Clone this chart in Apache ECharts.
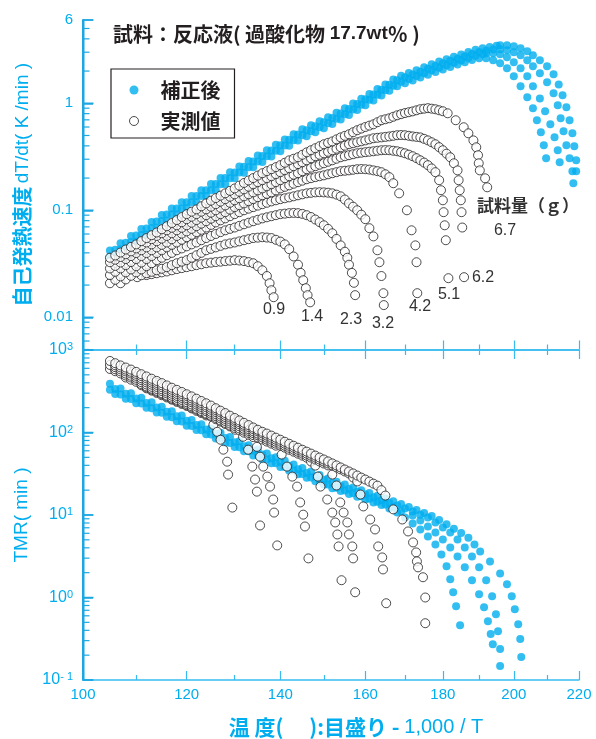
<!DOCTYPE html>
<html><head><meta charset="utf-8">
<script src="https://cdn.jsdelivr.net/npm/echarts@6/dist/echarts.min.js"></script>
<style>html,body{margin:0;padding:0;background:#fff}#c{width:596px;height:739px}</style>
</head><body><div id="c"></div>
<script>
// ---------- data: [temperature (deg C), value] ----------
// top panel: self-heat rate dT/dt (K/min), corrected (補正後)
const rateCorrA = [[105,0.0421],[107,0.0491],[109,0.0574],[111,0.0669],[113,0.0777],[115,0.0902],[117,0.104],[119,0.119],[121,0.136],[123,0.154],[125,0.176],[127,0.2],[129,0.227],[131,0.256],[133,0.288],[135,0.325],[137,0.364],[139,0.409],[141,0.459],[143,0.513],[145,0.572],[147,0.623],[149,0.679],[151,0.74],[153,0.815],[155,0.9],[157,0.994],[159,1.10],[161,1.22],[163,1.36],[165,1.5],[167,1.67],[169,1.81],[171,1.92],[173,2.04],[175,2.17],[177,2.31],[179,2.45],[181,2.58],[183,2.72],[185,2.86],[187,3.01],[189,3.16],[191,3.27],[193,3.35],[195,3.44],[196,3.48],[198,3.48],[200,3.41],[202,3.27],[204,3.06],[205.7,2.81],[207.8,2.52],[210,2.22],[212,1.87],[213.6,1.5],[214.8,1.19],[216,0.917],[217,0.694],[217.9,0.524],[218.5,0.396],[219.1,0.293],[219.1,0.231],[218.2,0.179]];
const rateCorrB = [[106,0.0427],[108,0.0498],[110,0.058],[112,0.0676],[114,0.0786],[116,0.0912],[118,0.104],[120,0.119],[122,0.136],[124,0.154],[126,0.176],[128,0.2],[130,0.226],[132,0.255],[134,0.286],[136,0.322],[138,0.362],[140,0.406],[142,0.455],[144,0.51],[146,0.559],[148,0.61],[150,0.665],[152,0.727],[154,0.803],[156,0.885],[158,0.983],[160,1.09],[162,1.21],[164,1.34],[166,1.49],[168,1.64],[170,1.75],[172,1.86],[174,1.97],[176,2.1],[178,2.23],[180,2.36],[182,2.49],[184,2.61],[186,2.75],[188,2.89],[190,3.02],[192,3.1],[194,3.18],[196,3.2],[198,3.13],[200,3.0],[202,2.81],[204,2.52],[205.7,2.22],[207.8,1.91],[210,1.57],[212,1.24],[213.3,0.958],[214.2,0.724],[215.1,0.547],[216,0.405],[217,0.306],[217.9,0.231]];
const rateCorrC = [[105,0.037],[107,0.0432],[109,0.0504],[111,0.0588],[113,0.0684],[115,0.0793],[117,0.0916],[119,0.104],[121,0.119],[123,0.136],[125,0.154],[127,0.175],[129,0.199],[131,0.225],[133,0.253],[135,0.285],[137,0.32],[139,0.36],[141,0.403],[143,0.451],[145,0.502],[147,0.547],[149,0.597],[151,0.65],[153,0.716],[155,0.791],[157,0.873],[159,0.97],[161,1.08],[163,1.2],[165,1.32],[167,1.46],[169,1.59],[171,1.69],[173,1.8],[175,1.91],[177,2.03],[179,2.15],[181,2.27],[183,2.39],[185,2.51],[187,2.65],[189,2.78],[191,2.87],[192,2.93],[194,2.93],[196,2.87],[198,2.69],[200,2.42],[202,2.12],[204,1.79],[205.7,1.44],[207.8,1.11],[209.4,0.842],[211,0.636],[212.3,0.481],[213.3,0.364],[213.9,0.281]];
const rateCorrD = [[106,0.0375],[108,0.0438],[110,0.051],[112,0.0594],[114,0.0691],[116,0.0801],[118,0.0916],[120,0.105],[122,0.119],[124,0.136],[126,0.154],[128,0.175],[130,0.199],[132,0.224],[134,0.252],[136,0.283],[138,0.318],[140,0.357],[142,0.4],[144,0.448],[146,0.491],[148,0.536],[150,0.584],[152,0.639],[154,0.706],[156,0.777],[158,0.864],[160,0.96],[162,1.06],[164,1.18],[166,1.31],[168,1.44],[170,1.54],[172,1.63],[174,1.74],[176,1.85],[178,1.96],[180,2.07],[182,2.18],[184,2.3],[186,2.42],[188,2.54],[190,2.63],[192,2.63],[194,2.52],[196,2.37],[198,2.12],[200,1.79],[202,1.44],[204,1.14],[205.7,0.898],[206.9,0.694],[208.1,0.536],[209,0.405],[209.7,0.306]];

// top panel: measured (実測値), one array per sample mass (g)
const rateMeas_0_9 = [[112,0.0248],[113,0.0253],[114,0.0258],[115,0.0263],[116,0.0268],[117,0.0275],[118,0.0282],[119,0.0288],[120,0.0294],[121,0.03],[122,0.0307],[123,0.0313],[124,0.032],[125,0.0324],[126,0.0328],[127,0.0331],[128,0.0335],[129,0.0338],[130,0.0342],[131,0.0339],[132,0.0335],[133,0.0328],[134,0.032],[135,0.03],[136,0.0275],[137,0.0243],[137.6,0.0208],[138,0.0179],[138.5,0.0154]];
const rateMeas_1_4 = [[110.2,0.0237],[111,0.0247],[112,0.0258],[113,0.0266],[114,0.0275],[115,0.0284],[116,0.0294],[117,0.0307],[118,0.032],[119,0.0331],[120,0.0342],[121,0.036],[122,0.038],[123,0.04],[124,0.0423],[125,0.0436],[126,0.045],[127,0.0465],[128,0.048],[129,0.049],[130,0.05],[131,0.0512],[132,0.0525],[133,0.0537],[134,0.055],[135,0.0555],[136,0.056],[137,0.0556],[138,0.055],[139,0.053],[140,0.051],[141,0.048],[142,0.0433],[143,0.037],[144,0.031],[144.6,0.026],[145.2,0.0222],[145.8,0.0187],[146.2,0.0161],[146.8,0.0138]];
const rateMeas_2_3 = [[107,0.0208],[108,0.0226],[109,0.0244],[110,0.0263],[111,0.028],[112,0.03],[113,0.032],[114,0.0342],[115,0.036],[116,0.038],[117,0.04],[118,0.0423],[119,0.044],[120,0.046],[121,0.048],[122,0.05],[123,0.0525],[124,0.055],[125,0.0575],[126,0.06],[127,0.0625],[128,0.065],[129,0.067],[130,0.069],[131,0.0715],[132,0.074],[133,0.0765],[134,0.079],[135,0.0815],[136,0.084],[137,0.086],[138,0.088],[139,0.09],[140,0.092],[141,0.093],[142,0.094],[143,0.0945],[144,0.094],[145,0.0925],[146,0.09],[147,0.0865],[148,0.082],[149,0.0775],[150,0.0724],[151,0.067],[152,0.061],[153,0.054],[154,0.047],[155,0.041],[155.6,0.036],[156,0.031],[156.7,0.026],[157.2,0.021],[157.5,0.0161]];
const rateMeas_3_2 = [[105,0.0208],[106,0.0224],[107,0.0241],[108,0.0263],[109,0.028],[110,0.03],[111,0.0325],[112,0.035],[113,0.0373],[114,0.0398],[115,0.0423],[116,0.045],[117,0.0475],[118,0.05],[119,0.053],[120,0.056],[121,0.059],[122,0.0625],[123,0.0657],[124,0.069],[125,0.073],[126,0.077],[127,0.0805],[128,0.084],[129,0.088],[130,0.092],[131,0.096],[132,0.1],[133,0.1035],[134,0.107],[135,0.1105],[136,0.114],[137,0.1175],[138,0.121],[139,0.124],[140,0.127],[141,0.1295],[142,0.132],[143,0.135],[144,0.138],[145,0.141],[146,0.144],[147,0.1455],[148,0.147],[149,0.1475],[150,0.147],[151,0.146],[152,0.144],[153,0.14],[154,0.135],[155,0.126],[156,0.116],[157,0.108],[158,0.1],[159,0.091],[160,0.0825],[161,0.068],[162,0.057],[163,0.0423],[163.5,0.0327],[164,0.0243],[164.5,0.0168],[164.6,0.013]];
const rateMeas_4_2 = [[105,0.0248],[106,0.0266],[107,0.0286],[108,0.0307],[109,0.0328],[110,0.035],[111,0.0373],[112,0.0398],[113,0.0423],[114,0.045],[115,0.0475],[116,0.05],[117,0.0536],[118,0.0575],[119,0.0605],[120,0.0635],[121,0.067],[122,0.071],[123,0.075],[124,0.079],[125,0.0835],[126,0.088],[127,0.092],[128,0.096],[129,0.1015],[130,0.107],[131,0.1115],[132,0.116],[133,0.1215],[134,0.127],[135,0.1325],[136,0.138],[137,0.1425],[138,0.147],[139,0.1535],[140,0.16],[141,0.1655],[142,0.171],[143,0.177],[144,0.183],[145,0.189],[146,0.195],[147,0.1995],[148,0.204],[149,0.208],[150,0.212],[151,0.217],[152,0.222],[153,0.227],[154,0.232],[155,0.234],[156,0.236],[157,0.239],[158,0.242],[159,0.243],[160,0.242],[161,0.24],[162,0.236],[163,0.232],[164,0.227],[165,0.217],[166,0.204],[167,0.179],[168.5,0.144],[170.5,0.1],[171.7,0.065],[172.7,0.047],[173,0.0327],[173.2,0.0168]];
const rateMeas_5_1 = [[105,0.0286],[106,0.0302],[107,0.0325],[108,0.035],[109,0.0373],[110,0.0398],[111,0.0423],[112,0.045],[113,0.048],[114,0.0513],[115,0.0543],[116,0.0575],[117,0.061],[118,0.065],[119,0.0686],[120,0.0724],[121,0.0765],[122,0.081],[123,0.0853],[124,0.09],[125,0.095],[126,0.1],[127,0.1055],[128,0.111],[129,0.1175],[130,0.124],[131,0.1295],[132,0.135],[133,0.141],[134,0.147],[135,0.1535],[136,0.16],[137,0.1675],[138,0.175],[139,0.183],[140,0.191],[141,0.1995],[142,0.208],[143,0.215],[144,0.222],[145,0.232],[146,0.242],[147,0.25],[148,0.258],[149,0.2665],[150,0.275],[151,0.284],[152,0.293],[153,0.303],[154,0.313],[155,0.32],[156,0.327],[157,0.334],[158,0.341],[159,0.345],[160,0.349],[161,0.3525],[162,0.356],[163,0.36],[164,0.364],[165,0.365],[166,0.364],[167,0.36],[168,0.356],[169,0.349],[170,0.341],[171,0.331],[172,0.32],[173,0.307],[174,0.293],[175,0.279],[176,0.264],[177,0.246],[178,0.227],[179,0.191],[179.5,0.154],[180,0.124],[180.2,0.096],[180.5,0.0724],[180.8,0.0525],[181.5,0.0232]];
const rateMeas_6_2 = [[105,0.0327],[106,0.0345],[107,0.0366],[108,0.0388],[109,0.0413],[110,0.044],[111,0.047],[112,0.05],[113,0.0537],[114,0.0575],[115,0.061],[116,0.065],[117,0.0686],[118,0.0724],[119,0.0773],[120,0.0825],[121,0.087],[122,0.092],[123,0.097],[124,0.102],[125,0.108],[126,0.114],[127,0.1205],[128,0.127],[129,0.134],[130,0.141],[131,0.149],[132,0.157],[133,0.166],[134,0.175],[135,0.183],[136,0.191],[137,0.1995],[138,0.208],[139,0.2175],[140,0.227],[141,0.237],[142,0.247],[143,0.258],[144,0.27],[145,0.281],[146,0.293],[147,0.306],[148,0.32],[149,0.33],[150,0.341],[151,0.352],[152,0.364],[153,0.376],[154,0.388],[155,0.401],[156,0.414],[157,0.423],[158,0.432],[159,0.441],[160,0.45],[161,0.46],[162,0.471],[163,0.4755],[164,0.48],[165,0.485],[166,0.49],[167,0.4965],[168,0.503],[169,0.505],[170,0.503],[171,0.4965],[172,0.49],[173,0.485],[174,0.48],[175,0.465],[176,0.45],[177,0.432],[178,0.414],[179,0.389],[180,0.364],[181,0.338],[182,0.313],[183,0.275],[184,0.236],[184.3,0.191],[184.6,0.154],[184.9,0.124],[185.1,0.096],[185.3,0.069],[185.8,0.0237]];
const rateMeas_6_7 = [[105,0.036],[106,0.0378],[107,0.0403],[108,0.043],[109,0.0455],[110,0.048],[111,0.0515],[112,0.055],[113,0.0585],[114,0.062],[115,0.0665],[116,0.071],[117,0.076],[118,0.081],[119,0.0865],[120,0.092],[121,0.097],[122,0.102],[123,0.109],[124,0.116],[125,0.123],[126,0.13],[127,0.137],[128,0.144],[129,0.152],[130,0.16],[131,0.17],[132,0.18],[133,0.19],[134,0.2],[135,0.211],[136,0.222],[137,0.232],[138,0.242],[139,0.253],[140,0.264],[141,0.278],[142,0.293],[143,0.303],[144,0.313],[145,0.33],[146,0.348],[147,0.364],[148,0.38],[149,0.397],[150,0.414],[151,0.427],[152,0.44],[153,0.46],[154,0.48],[155,0.496],[156,0.513],[157,0.536],[158,0.56],[159,0.58],[160,0.6],[161,0.618],[162,0.636],[163,0.665],[164,0.694],[165,0.709],[166,0.724],[167,0.748],[168,0.772],[169,0.791],[170,0.81],[171,0.825],[172,0.84],[173,0.86],[174,0.88],[175,0.89],[176,0.9],[177,0.89],[178,0.879],[179,0.86],[180,0.842],[181.3,0.806],[183.5,0.694],[185.7,0.597],[187,0.524],[188.4,0.45],[189.2,0.388],[189.7,0.327],[189.9,0.275],[190.2,0.236],[191.7,0.199],[192.3,0.164]];

// bottom panel: TMR (min), corrected
const tmrCorrA = [[105,389],[107,342],[109,300],[111,264],[113,233],[115,205],[117,181],[119,161],[121,142],[123,126],[125,112],[127,99.3],[129,88.1],[131,78.4],[133,69.9],[135,62.2],[137,55.5],[139,50.1],[141,45.3],[143,41],[145,37.1],[147,33.6],[149,30.5],[151,27.7],[153,25.3],[155,23.4],[157,21.6],[159,20],[161,18.5],[163,17.1],[165,15.9],[167,14.7],[169,13.6],[171,12.5],[173,11.5],[175,10.6],[177,9.75],[179,8.71],[181,7.7],[183,6.83],[185,6.06],[187,5.3],[188.7,4.4],[190.3,3.62],[193.1,2.74],[196,1.96],[198,1.45],[199.4,1.035],[200.3,0.721],[201.3,0.475],[201.9,0.313],[202.2,0.19]];
const tmrCorrB = [[106,336],[108,295],[110,259],[112,228],[114,201],[116,178],[118,157],[120,139],[122,123],[124,109],[126,96.8],[128,85.9],[130,76.4],[132,68],[134,60.7],[136,54.1],[138,48.6],[140,43.8],[142,39.6],[144,35.9],[146,32.4],[148,29.4],[150,26.7],[152,24.3],[154,22.4],[156,20.7],[158,19.1],[160,17.7],[162,16.4],[164,15.1],[166,14],[168,13],[170,12],[172,11],[174,10.1],[176,9.33],[178,8.1],[180,7.06],[182,6.14],[184,5.06],[186,4.05],[188,3.15],[190,2.32],[192,1.62],[193.7,1.035],[194.8,0.628],[195.4,0.391],[196,0.237],[196,0.148]];
const tmrCorrC = [[105,329],[107,289],[109,254],[111,224],[113,197],[115,174],[117,153],[119,136],[121,120],[123,106.5],[125,94.5],[127,84.1],[129,74.6],[131,66.3],[133,59.2],[135,52.7],[137,47],[139,42.4],[141,38.3],[143,34.7],[145,31.4],[147,28.5],[149,25.8],[151,23.4],[153,21.4],[155,19.8],[157,18.3],[159,16.9],[161,15.7],[163,14.5],[165,13.4],[167,12.5],[169,11.1],[172,9.86],[174,8.58],[176,7.26],[178,6.14],[180,5.06],[182,4.05],[184,3.15],[186,2.32],[188,1.62],[190,1.095],[191.4,0.762],[192.5,0.516],[193.3,0.36],[193.9,0.272]];
const tmrCorrD = [[106,292],[108,257],[110,226],[112,199],[114,175],[116,155],[118,137],[120,121],[122,107],[124,95],[126,84.3],[128,74.8],[130,66.5],[132,59.2],[134,52.8],[136,47.1],[138,42.3],[140,38.1],[142,34.5],[144,31.2],[146,28.2],[148,25.6],[150,23.2],[152,21.1],[154,19.5],[156,18],[158,16.6],[160,15.4],[162,14.2],[164,13.2],[166,12],[168,10.7],[170,9.33],[172,7.89],[174,6.68],[176,5.5],[178,4.4],[179.6,3.33],[181,2.39],[182,1.66],[182.8,1.157],[183.6,0.784],[184.7,0.462]];

// bottom panel: TMR (min), measured
const tmrMeas_0_9 = [[112,343],[113,322],[114,302],[115,283],[116,266],[117,250],[118,235],[119,222],[120,210],[121,196],[122,183],[123,172],[124,161],[125.5,124],[126.3,102],[127,81.7],[127.6,61.9],[128.4,44.3],[128.6,30.9],[129.5,12.3]];
const tmrMeas_1_4 = [[111,374],[112,352],[113,331],[114,311],[115,292],[116,274],[117,256],[118,242],[119,228],[120,214],[121,201],[122,189],[123,177],[124,166],[125,156],[126,145],[127,135.5],[128,126.7],[129,118.5],[130.1,108],[131.8,88.8],[132.9,61.9],[133.8,38.6],[134.4,26.9],[134.8,19.2],[135.5,7.47]];
const tmrMeas_2_3 = [[108,464],[109,437],[110,412],[111,386],[112,362],[113,340],[114,320],[115,300],[116,281],[117,265],[118,249],[119,235],[120,222],[121,208],[122,194],[123,182],[124,170],[125,160],[126,150],[127,140],[128,130.5],[129,121.7],[130,113.5],[131,106.3],[132,99.6],[133,93.6],[134,88],[134.8,67],[135.5,50.9],[136.2,38.6],[137.1,29.2],[137.7,22.1],[138.4,15.4],[138.6,10.7],[139.3,4.28]];
const tmrMeas_3_2 = [[105,589],[106,553],[107,520],[108,491],[109,464],[110,435],[111,407],[112,382],[113,358],[114,337],[115,318],[116,298],[117,279],[118,263],[119,248],[120,233],[121,219],[122,206],[123,193],[124,181],[125,169],[126,158],[127,148],[128,138],[129,128.5],[130,120],[131,112],[132,105.3],[133,99],[134,92.9],[135,87.1],[136,82.2],[137,77.6],[138,73.3],[139,69.3],[140.3,54],[141.5,38.6],[142.7,29.2],[143.8,22.1],[144.5,14.2],[145.2,10.1],[145.6,7.26],[146.4,2.98]];
const tmrMeas_4_2 = [[106,584],[107,550],[108,518],[109,488],[110,460],[111,432],[112,405],[113,380],[114,357],[115,335],[116,314],[117,295],[118,278],[119,263],[120,248],[121,233],[122,218],[123,204],[124,190],[125,178],[126,167],[127,156],[128,146],[129,136],[130,127],[131,119],[132,111],[133,104.5],[134,98.2],[135,92.5],[136,87.1],[137,82.1],[138,77.4],[139,73.2],[140,69.3],[141,65.4],[142,61.8],[143,58.5],[144,55.4],[145,52.4],[146,49.5],[147,44.5],[148,39.7],[148.6,29.2],[149.2,22.1],[150.8,15.4],[152,10.7],[152.7,8.12],[153.2,5.81],[153.5,4.16],[154.2,1.62]];
const tmrMeas_5_1 = [[105,659],[106,619],[107,582],[108,550],[109,519],[110,486],[111,455],[112,428],[113,402],[114,378],[115,355],[116,333],[117,312],[118,294],[119,277],[120,261],[121,245],[122,230],[123,216],[124,202],[125,189],[126,177],[127,165],[128,154],[129,144],[130,135],[131,126],[132,118],[133,110],[134,103.5],[135,97.3],[136,91.9],[137,86.8],[138,82],[139,77.4],[140,73.1],[141,69.1],[142,65.3],[143,61.8],[144,58.5],[145,55.4],[146,52.4],[147,49.6],[148,47],[149,44.5],[150,42.1],[151,39.9],[152,30.9],[153,22.8],[153.9,14.2],[154.7,10.7],[155.6,8.12],[156,5.81],[156.8,4.16],[157,2.98],[157.5,1.157]];
const tmrMeas_6_2 = [[106,653],[107,615],[108,579],[109,545],[110,514],[111,483],[112,453],[113,425],[114,399],[115,374],[116,351],[117,330],[118,311],[119,293],[120,277],[121,259],[122,243],[123,228],[124,213],[125,200],[126,187],[127,175],[128,163],[129,152],[130,142],[131,133],[132,124],[133,116.5],[134,109.5],[135,103.3],[136,97.4],[137,91.8],[138,86.6],[139,81.9],[140,77.4],[141,73.1],[142,69.1],[143,65.4],[144,61.8],[145,58.5],[146,55.4],[147,52.4],[148,49.6],[149,47],[150,44.5],[151,42.1],[152,39.9],[153,37.7],[154,35.7],[155,33.7],[156,31.9],[157,28.5],[158,25.5],[158.8,17.7],[159.5,12.7],[161.2,8.82],[162.4,6.68],[163.2,4.16],[164.2,3.06],[164.4,2.19],[165.2,0.852]];
const tmrMeas_6_7 = [[105,736],[106,692],[107,650],[108,613],[109,579],[110,543],[111,509],[112,478],[113,449],[114,422],[115,397],[116,372],[117,349],[118,329],[119,310],[120,291],[121,274],[122,257],[123,241],[124,226],[125,212],[126,197],[127,184],[128,172],[129,160],[130,150],[131,140],[132,131],[133,123],[134,115],[135,108],[136,102],[137,97],[138,91.7],[139,86.6],[140,81.8],[141,77.2],[142,73],[143,69.1],[144,65.4],[145,61.8],[146,58.6],[147,55.5],[148,52.5],[149,49.7],[150,47.1],[151,44.6],[152,42.2],[153,39.9],[154,37.7],[155,35.6],[156,33.7],[157,31.9],[158,30.1],[159,28.4],[160,26.9],[161,25.4],[162,24],[163,22.7],[164,20],[165,17.2],[167,11.7],[169.3,8.82],[170.8,6.32],[172.1,4.65],[172.9,3.52],[173.1,2.74],[173.4,2.32],[174.7,1.76],[175.3,1.0],[175.3,0.488]];

// axis ticks / labels (in data units)
const xTickMajor = [100,120,140,160,180,200,220];
const xTickMinor = [110,130,150,170,190,210];
const rateTickMajor = [0.01,0.1,1,6];
const rateTickMinor = [0.005,0.006,0.007,0.008,0.009,0.02,0.03,0.04,0.05,0.06,0.07,0.08,0.09,0.2,0.3,0.4,0.5,0.6,0.7,0.8,0.9,2,3,4,5];
const tmrTickMajor = [0.1,1,10,100,1000];
const tmrTickMinor = [0.2,0.3,0.4,0.5,0.6,0.7,0.8,0.9,2,3,4,5,6,7,8,9,20,30,40,50,60,70,80,90,200,300,400,500,600,700,800,900];
const sampleMass = ['0.9','1.4','2.3','3.2','4.2','5.1','6.2','6.7'];

// ---------- layout & style ----------
const labelPos = [[274,310],[312,317],[351,320],[383,324],[420,307],[449,295],[483,278],[505,231]];
const GRID_LEFT = 83, GRID_RIGHT = 17;
const gridTop = {top: 20, height: 329.5}, gridBot = {top: 350, height: 331};
const CY = '#00aeef', AX = '#38bcef', SP = '#1ca7e2', INK = '#231f20';
const FONT = '"Liberation Sans", Arial, sans-serif';
const JP = '"Noto Sans CJK JP", "Liberation Sans", sans-serif';

const X = t => -1000 / (t + 273.15);   // axis scale: -1000/T (K)
const L = v => Math.log10(v);
const pts = a => a.map(p => [X(p[0]), L(p[1])]);
const xMin = X(100), xMax = X(220);

const mkLine = show => ({show: show, onZero: false, lineStyle: {color: AX, width: 1.5}});
function xAx(grid, pos, vals, len, line, labels) {
  return {type: 'value', gridIndex: grid, position: pos, min: xMin, max: xMax,
    axisLine: mkLine(line),
    axisTick: {show: true, inside: true, length: len, customValues: vals.map(X), lineStyle: {color: AX, width: 1.2}},
    axisLabel: labels ? {show: true, customValues: xTickMajor.map(X), color: CY, fontSize: 15, fontFamily: FONT, margin: 7,
      formatter: v => String(Math.round(-1000 / v - 273.15))} : {show: false},
    splitLine: {show: false}};
}
function yAx(grid, min, max, ticks, label, name) {
  return Object.assign({type: 'value', gridIndex: grid, position: 'left', min: min, max: max,
    axisLine: {show: true, onZero: false, lineStyle: {color: SP, width: 2}},
    axisTick: {show: true, inside: true, length: 10, customValues: ticks.map(L), lineStyle: {color: SP, width: 1.5}},
    axisLabel: label, splitLine: {show: false}}, name);
}
const nameRich = () => ({
  j: {fontFamily: JP, fontWeight: 'bold', fontSize: 20, color: CY},
  l: {fontFamily: FONT, fontSize: 19, color: CY}
});

const corrStyle = {symbol: 'circle', symbolSize: 8, itemStyle: {color: CY}};
const measStyle = {symbol: 'circle', symbolSize: 9, itemStyle: {color: '#fff', borderColor: INK, borderWidth: 1}};
function sc(name, data, xi, yi, st) {
  return {type: 'scatter', name: name, data: pts(data), xAxisIndex: xi, yAxisIndex: yi, silent: true,
    symbol: st.symbol, symbolSize: st.symbolSize, itemStyle: Object.assign({}, st.itemStyle)};
}

const series = [];
[rateCorrA, rateCorrB, rateCorrC, rateCorrD].forEach(d => series.push(sc('補正後', d, 0, 0, corrStyle)));
[rateMeas_0_9, rateMeas_1_4, rateMeas_2_3, rateMeas_3_2, rateMeas_4_2, rateMeas_5_1, rateMeas_6_2, rateMeas_6_7].forEach(d => series.push(sc('実測値', d, 0, 0, measStyle)));
[tmrCorrA, tmrCorrB, tmrCorrC, tmrCorrD].forEach(d => series.push(sc('補正後', d, 4, 1, corrStyle)));
[tmrMeas_0_9, tmrMeas_1_4, tmrMeas_2_3, tmrMeas_3_2, tmrMeas_4_2, tmrMeas_5_1, tmrMeas_6_2, tmrMeas_6_7].forEach(d => series.push(sc('実測値', d, 4, 1, measStyle)));

const graphics = sampleMass.map((s, i) => ({type: 'text', x: labelPos[i][0], y: labelPos[i][1], silent: true,
  style: {text: s, fill: '#333', font: '16px "Liberation Sans", Arial, sans-serif', align: 'center', verticalAlign: 'middle'}}));
graphics.push({type: 'text', x: 528, y: 206, silent: true,
  style: {text: '試料量（ｇ）', fill: '#333', font: 'bold 17px "Noto Sans CJK JP", sans-serif', align: 'center', verticalAlign: 'middle'}});

const option = {
  animation: false,
  backgroundColor: '#fff',
  title: {text: '{j|試料：反応液( 過酸化物 }{l|17.7wt}{j|％ )}', left: 108, top: 19,
    textStyle: {rich: {j: {fontFamily: JP, fontWeight: 'bold', fontSize: 20, color: INK}, l: {fontFamily: FONT, fontSize: 19, color: INK}}}},
  legend: {
    data: [{name: '補正後', icon: 'circle', itemStyle: {color: CY}},
           {name: '実測値', icon: 'circle', itemStyle: {color: '#fff', borderColor: INK, borderWidth: 1}}],
    orient: 'vertical', left: 111, top: 69, itemWidth: 9, itemHeight: 9, itemGap: 9,
    padding: [10, 14, 6, 18], borderColor: INK, borderWidth: 1.2, selectedMode: false,
    textStyle: {fontFamily: JP, fontWeight: 'bold', fontSize: 20, color: INK, lineHeight: 22, padding: [0, 0, 0, 17]}
  },
  grid: [
    {left: GRID_LEFT, right: GRID_RIGHT, top: gridTop.top, height: gridTop.height},
    {left: GRID_LEFT, right: GRID_RIGHT, top: gridBot.top, height: gridBot.height}
  ],
  xAxis: [
    xAx(0, 'bottom', xTickMajor, 9, true, false),
    xAx(0, 'bottom', xTickMinor, 5, false, false),
    xAx(1, 'top', xTickMajor, 9, true, false),
    xAx(1, 'top', xTickMinor, 5, false, false),
    Object.assign(xAx(1, 'bottom', xTickMajor, 9, true, true), {
      name: '{j|温 度(　 ):目盛り - }{l|1,000 / T}', nameLocation: 'middle', nameGap: 37,
      nameTextStyle: {padding: [0, 0, 0, 50], rich: {j: {fontFamily: JP, fontWeight: 'bold', fontSize: 21, color: CY}, l: {fontFamily: FONT, fontSize: 20, color: CY}}}}),
    xAx(1, 'bottom', xTickMinor, 5, false, false)
  ],
  yAxis: [
    yAx(0, L(0.005), L(6), rateTickMajor,
      {show: true, customValues: rateTickMajor.map(L), color: CY, fontSize: 15, fontFamily: FONT, margin: 10,
       formatter: v => String(parseFloat(Math.pow(10, v).toPrecision(2)))},
      {name: '{j|自己発熱速度} {l|dT/dt( K /min )}', nameLocation: 'middle', nameRotate: 90, nameGap: 50,
       nameTextStyle: {rich: nameRich()}}),
    yAx(1, -1, 3, tmrTickMajor,
      {show: true, customValues: tmrTickMajor.map(L), color: CY, fontSize: 15, fontFamily: FONT, margin: 10,
       formatter: v => { const e = Math.round(v); return '{b|10}{s|' + (e < 0 ? '- ' + (-e) : e) + '}'; },
       rich: {b: {color: CY, fontSize: 16, fontFamily: FONT}, s: {color: CY, fontSize: 11, fontFamily: FONT, verticalAlign: 'top', padding: [0, 0, 6, 0]}}},
      {name: '{l|TMR( min )}', nameLocation: 'middle', nameRotate: 90, nameGap: 52,
       nameTextStyle: {rich: nameRich()}})
  ],
  graphic: graphics,
  series: series
};
const chart = echarts.init(document.getElementById('c'), null, {renderer: 'canvas'});
chart.setOption(option);

// left spines with log minor ticks on their own layer; positions come from the chart's axis
// scales, falling back to the grid layout if a conversion is unavailable
const spine = [];
const seg = (x1, y1, x2, y2, w) => spine.push({type: 'line', silent: true, zlevel: 2, z: 100,
  shape: {x1: x1, y1: y1, x2: x2, y2: y2}, style: {stroke: SP, lineWidth: w}});
function toY(yi, g, min, max, val) {
  let y = NaN;
  try { y = chart.convertToPixel({yAxisIndex: yi}, val); } catch (e) {}
  if (!isFinite(y)) y = g.top + (max - val) / (max - min) * g.height;
  return y;
}
function leftAxis(yi, g, min, max, major, minor) {
  const x0 = GRID_LEFT + 0.5;
  seg(x0, toY(yi, g, min, max, max), x0, toY(yi, g, min, max, min), 2);
  major.forEach(v => { const y = toY(yi, g, min, max, L(v)); seg(x0, y, x0 + 10, y, 1.5); });
  minor.forEach(v => { const y = toY(yi, g, min, max, L(v)); seg(x0, y, x0 + 6, y, 1.2); });
}
leftAxis(0, gridTop, L(0.005), L(6), rateTickMajor, rateTickMinor);
leftAxis(1, gridBot, -1, 3, tmrTickMajor, tmrTickMinor);
chart.setOption({graphic: graphics.concat(spine)});
</script></body></html>
